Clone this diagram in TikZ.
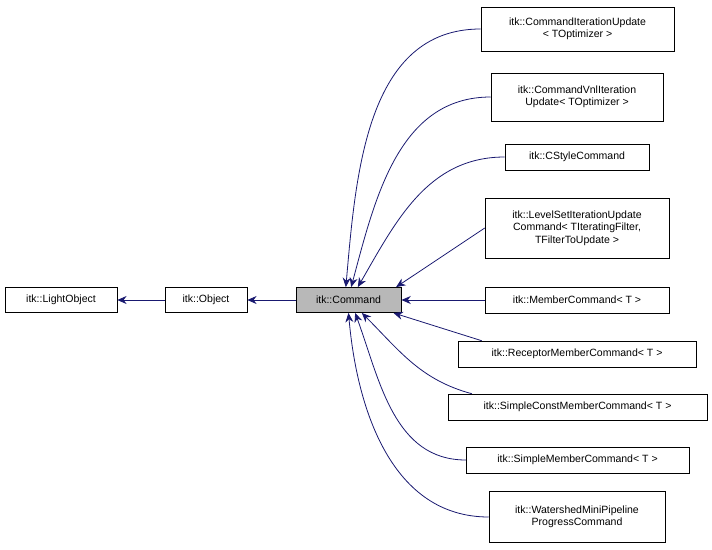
\documentclass[tikz,border=0pt]{standalone}
\usepackage{fontspec}
\setmainfont{Liberation Sans}
\usetikzlibrary{arrows.meta}
\definecolor{edgeblue}{RGB}{25,25,112}
\begin{document}
\begin{tikzpicture}[x=0.75pt,y=-0.75pt,
    cls/.style={draw,fill=white,inner sep=1pt,align=center,font=\fontsize{7.9}{9.4}\selectfont},
    inh/.style={edgeblue,-{Stealth[length=7pt,width=6pt]},line width=0.6pt}]
        \useasboundingbox (0,0) rectangle (712,549);

        % Base chain
        \node[cls,minimum width=84pt,minimum height=19pt] (light) at (61,300) {itk::LightObject};
        \node[cls,minimum width=61.5pt,minimum height=19pt] (obj) at (206,300) {itk::Object};
        \node[cls,fill=black!28,minimum width=79pt,minimum height=19pt] (cmd) at (348.5,300) {itk::Command};

        % Derived classes
        \node[cls,minimum width=145pt,minimum height=33pt] (iterupd) at (577.5,29) {itk::CommandIterationUpdate\\\textless{} TOptimizer \textgreater};
        \node[cls,minimum width=129pt,minimum height=36pt] (vnlupd) at (577,97) {itk::CommandVnlIteration\\Update\textless{} TOptimizer \textgreater};
        \node[cls,minimum width=108pt,minimum height=19.5pt] (cstyle) at (577,157) {itk::CStyleCommand};
        \node[cls,minimum width=138pt,minimum height=45pt] (levelset) at (577,228) {itk::LevelSetIterationUpdate\\Command\textless{} TIteratingFilter,\\TFilterToUpdate \textgreater};
        \node[cls,minimum width=138pt,minimum height=19.5pt] (member) at (577,300) {itk::MemberCommand\textless{} T \textgreater};
        \node[cls,minimum width=178.5pt,minimum height=19.5pt] (receptor) at (577,354) {itk::ReceptorMemberCommand\textless{} T \textgreater};
        \node[cls,minimum width=194pt,minimum height=19.5pt] (sconst) at (577.5,407) {itk::SimpleConstMemberCommand\textless{} T \textgreater};
        \node[cls,minimum width=167pt,minimum height=19.5pt] (smember) at (577.5,460) {itk::SimpleMemberCommand\textless{} T \textgreater};
        \node[cls,minimum width=132pt,minimum height=38pt] (watershed) at (577,517) {itk::WatershedMiniPipeline\\ProgressCommand};

        % Inheritance edges
        \draw[inh] (obj) -- (light);
        \draw[inh] (cmd) -- (obj);
        \draw[inh] (iterupd.west) to[out=180,in=85] ([xshift=-2pt]cmd.north);
        \draw[inh] (vnlupd.west) to[out=180,in=75] ([xshift=2pt]cmd.north);
        \draw[inh] (cstyle.west) to[out=180,in=60] ([xshift=7pt]cmd.north);
        \draw[inh] (levelset.west) -- ([xshift=-4pt]cmd.north east);
        \draw[inh] (member) -- (cmd);
        \draw[inh] ([xshift=18pt]receptor.north west) -- ([xshift=-6pt]cmd.south east);
        \draw[inh] ([xshift=18pt]sconst.north west) to[out=165,in=-45] ([xshift=10pt]cmd.south);
        \draw[inh] (smember.west) to[out=180,in=-70] ([xshift=5pt]cmd.south);
        \draw[inh] (watershed.west) to[out=180,in=-85] (cmd.south);
\end{tikzpicture}
\end{document}
